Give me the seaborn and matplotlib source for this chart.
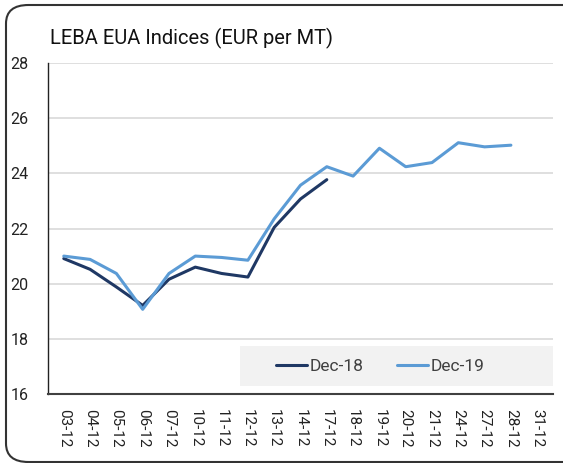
import matplotlib
matplotlib.use("Agg")
import matplotlib.pyplot as plt
import seaborn as sns
import pandas as pd
import numpy as np
from matplotlib.patches import FancyBboxPatch, Rectangle

dates = ["03-12", "04-12", "05-12", "06-12", "07-12", "10-12", "11-12", "12-12", "13-12",
         "14-12", "17-12", "18-12", "19-12", "20-12", "21-12", "24-12", "27-12", "28-12", "31-12"]
dec18 = [20.91, 20.52, 19.88, 19.21, 20.16, 20.60, 20.37, 20.24, 22.04, 23.07, 23.77,
         None, None, None, None, None, None, None, None]
dec19 = [21.00, 20.88, 20.37, 19.07, 20.37, 21.00, 20.95, 20.85, 22.35, 23.57, 24.24,
         23.90, 24.91, 24.24, 24.39, 25.11, 24.96, 25.02, None]
series_names = ["Dec-18", "Dec-19"]
colors = ["#1f3864", "#5b9bd5"]

df = pd.DataFrame({"date": dates, "Dec-18": dec18, "Dec-19": dec19})
long = df.melt(id_vars="date", var_name="series", value_name="value")
long["value"] = long["value"].astype(float)
long["x"] = long["date"].map({d: i for i, d in enumerate(dates)})

sns.set_theme(style="white")
plt.rcParams["font.family"] = ["Roboto", "DejaVu Sans"]

W, H = 563, 463
fig = plt.figure(figsize=(W / 100, H / 100), dpi=100)
ax_l, ax_r, ax_t, ax_b = 48, 553, 63, 394
ax = fig.add_axes([ax_l / W, 1 - ax_b / H, (ax_r - ax_l) / W, (ax_b - ax_t) / H])

for name, col in zip(series_names, colors):
    sub = long[long["series"] == name].dropna()
    sns.lineplot(data=sub, x="x", y="value", ax=ax, color=col, linewidth=2.2, label=name)

ax.set_ylim(16, 28)
ax.set_yticks(np.arange(16, 29, 2))
ax.set_xlim(-0.6, len(dates) - 0.4)
ax.set_xticks(range(len(dates)))
ax.set_xticklabels(dates, rotation=-90, fontsize=11, color="#222222")
ax.tick_params(axis="y", labelsize=11.5, colors="#222222", length=0, pad=14)
ax.tick_params(axis="x", length=0, pad=11)
ax.set_xlabel("")
ax.set_ylabel("")
ax.grid(axis="y", color="#d9d9d9", linewidth=1.2)
ax.set_axisbelow(True)
for s in ["top", "right"]:
    ax.spines[s].set_visible(False)
ax.spines["left"].set_color("#222222")
ax.spines["bottom"].set_color("#404040")
ax.spines["left"].set_linewidth(1.0)
ax.spines["bottom"].set_linewidth(1.5)

# legend background panel
def px_to_ax(x, y):
    return (x - ax_l) / (ax_r - ax_l), (ax_b - y) / (ax_b - ax_t)

x0, y0 = px_to_ax(240, 386)
x1, y1 = px_to_ax(553, 346)
ax.add_patch(Rectangle((x0, y0), x1 - x0, y1 - y0, transform=ax.transAxes,
                       facecolor="#f2f2f2", edgecolor="none", zorder=1.5))
cx, cy = px_to_ax(380, 366)
leg = ax.legend(loc="center", bbox_to_anchor=(cx, cy), ncol=2, frameon=False,
                fontsize=12.5, handlelength=1.8, handletextpad=0.15, columnspacing=1.9,
                labelcolor="#404040")
leg.set_zorder(3)

fig.text(50 / W, 1 - 38 / H, "LEBA EUA Indices (EUR per MT)", fontsize=14.5,
         color="#111111", va="center", ha="left")

box = FancyBboxPatch((6 / W, 1 - 462 / H), (600 - 6) / W, (462 - 5) / H,
                     boxstyle="round,pad=0,rounding_size=0.04",
                     transform=fig.transFigure, fill=False, edgecolor="#333333",
                     linewidth=1.5, clip_on=False)
fig.patches.append(box)

fig.savefig("out.png", dpi=100)
